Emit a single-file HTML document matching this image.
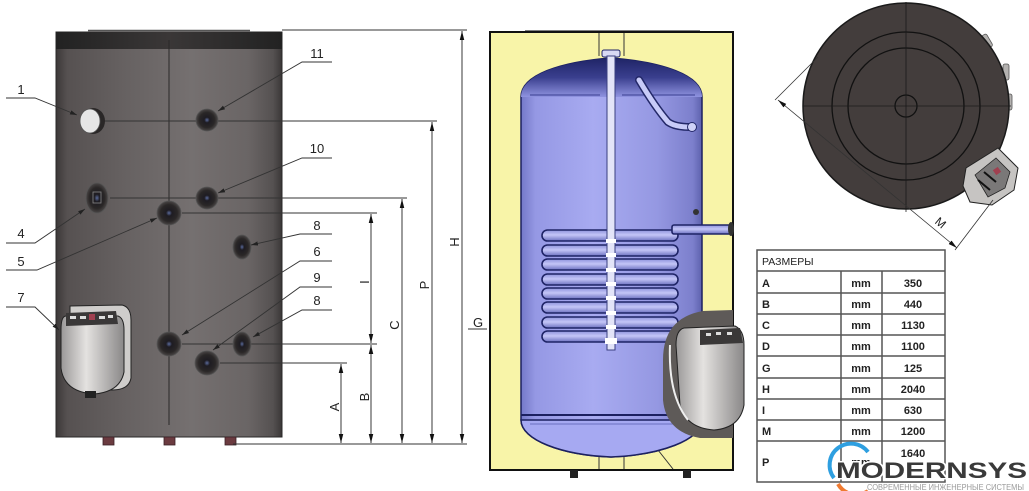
<!DOCTYPE html>
<html><head><meta charset="utf-8"><style>
html,body{margin:0;padding:0;background:#fff;}
svg{display:block;}
text{font-family:"Liberation Sans","DejaVu Sans",sans-serif;}
</style></head><body>
<svg width="1029" height="491" viewBox="0 0 1029 491" xmlns="http://www.w3.org/2000/svg">
<defs>
<linearGradient id="tankL" x1="0" x2="1" y1="0" y2="0">
<stop offset="0" stop-color="#3c3838"/><stop offset="0.05" stop-color="#565151"/>
<stop offset="0.3" stop-color="#666161"/><stop offset="0.6" stop-color="#757070"/>
<stop offset="0.85" stop-color="#6a6565"/><stop offset="0.96" stop-color="#555151"/>
<stop offset="1" stop-color="#3a3737"/></linearGradient>
<linearGradient id="cap" x1="0" x2="1"><stop offset="0" stop-color="#222"/><stop offset="0.5" stop-color="#3a3737"/><stop offset="1" stop-color="#222"/></linearGradient>
<linearGradient id="lav" x1="0" x2="1"><stop offset="0" stop-color="#7478c8"/><stop offset="0.08" stop-color="#9598e4"/><stop offset="0.4" stop-color="#a8abf1"/><stop offset="0.75" stop-color="#9598e2"/><stop offset="0.95" stop-color="#7c7fcc"/><stop offset="1" stop-color="#5d61ad"/></linearGradient>
<linearGradient id="dome" x1="0" x2="0" y1="0" y2="1"><stop offset="0" stop-color="#1f2466"/><stop offset="0.5" stop-color="#3a3f8e"/><stop offset="1" stop-color="#8f93e0"/></linearGradient>
<linearGradient id="coil" x1="0" x2="0" y1="0" y2="1"><stop offset="0" stop-color="#8e92dc"/><stop offset="0.45" stop-color="#c4c6f7"/><stop offset="1" stop-color="#6c70c0"/></linearGradient>
<linearGradient id="ctrl" x1="0" x2="1"><stop offset="0" stop-color="#9a9898"/><stop offset="0.4" stop-color="#e4e2e0"/><stop offset="1" stop-color="#8a8888"/></linearGradient>
<radialGradient id="fit"><stop offset="0" stop-color="#5a6a9a"/><stop offset="0.25" stop-color="#1e1c22"/><stop offset="0.7" stop-color="#2a2727"/><stop offset="1" stop-color="#4a4646"/></radialGradient>
<marker id="ar" viewBox="0 0 10 10" refX="10" refY="5" markerWidth="7" markerHeight="7" orient="auto-start-reverse" markerUnits="userSpaceOnUse"><path d="M0,2 L10,5 L0,8 z" fill="#222"/></marker>
<marker id="ad" viewBox="0 0 10 10" refX="10" refY="5" markerWidth="9" markerHeight="9" orient="auto-start-reverse" markerUnits="userSpaceOnUse"><path d="M0,2.5 L10,5 L0,7.5 z" fill="#111"/></marker>
</defs>

<!-- LEFT TANK -->
<line x1="88" y1="30.5" x2="250" y2="30.5" stroke="#555" stroke-width="1.5"/>
<rect x="56" y="32" width="226" height="405" fill="url(#tankL)" stroke="#2a2828" stroke-width="1"/>
<rect x="56" y="32" width="226" height="17" fill="url(#cap)"/>
<line x1="169" y1="40" x2="169" y2="425" stroke="#2a2828" stroke-width="1"/>
<!-- feet -->
<g fill="#6b3b40" stroke="#3a2226" stroke-width="0.8">
<rect x="103" y="437" width="11" height="8"/><rect x="164" y="437" width="11" height="8"/><rect x="225" y="437" width="11" height="8"/></g>

<!-- extension lines -->
<g stroke="#333" stroke-width="0.9" fill="none">
<line x1="282" y1="30" x2="467" y2="30"/>
<line x1="105" y1="121" x2="437" y2="121"/>
<line x1="110" y1="198" x2="407" y2="198"/>
<line x1="182" y1="213" x2="377" y2="213"/>
<line x1="182" y1="344" x2="377" y2="344"/>
<line x1="220" y1="363" x2="347" y2="363"/>
<line x1="233" y1="444" x2="467" y2="444"/>
</g>
<!-- dimension verticals -->
<g stroke="#222" stroke-width="0.9" fill="none">
<line x1="341" y1="364" x2="341" y2="443" marker-start="url(#ad)" marker-end="url(#ad)"/>
<line x1="371" y1="214" x2="371" y2="343" marker-start="url(#ad)" marker-end="url(#ad)"/>
<line x1="371" y1="345" x2="371" y2="443" marker-start="url(#ad)" marker-end="url(#ad)"/>
<line x1="402" y1="199" x2="402" y2="443" marker-start="url(#ad)" marker-end="url(#ad)"/>
<line x1="432" y1="122" x2="432" y2="443" marker-start="url(#ad)" marker-end="url(#ad)"/>
<line x1="462" y1="31" x2="462" y2="443" marker-start="url(#ad)" marker-end="url(#ad)"/>
</g>
<g font-size="13" fill="#222" text-anchor="middle">
<text transform="translate(339,407) rotate(-90)">A</text>
<text transform="translate(369,397) rotate(-90)">B</text>
<text transform="translate(369,282) rotate(-90)">I</text>
<text transform="translate(399,325) rotate(-90)">C</text>
<text transform="translate(429,285) rotate(-90)">P</text>
<text transform="translate(459,242) rotate(-90)">H</text>
<text x="478" y="327">G</text>
</g>
<line x1="468" y1="329" x2="487" y2="329" stroke="#333" stroke-width="0.9"/>

<!-- fittings -->
<ellipse cx="93" cy="121" rx="12" ry="13" fill="#2a2727"/>
<ellipse cx="90" cy="121" rx="10" ry="12" fill="#e6e6e6" stroke="#555" stroke-width="0.8"/>
<g stroke="#555" stroke-width="0.8">
<circle cx="207" cy="120" r="11" fill="url(#fit)"/>
<circle cx="207" cy="198" r="11" fill="url(#fit)"/>
<ellipse cx="97" cy="198" rx="11" ry="15" fill="url(#fit)"/>
<circle cx="169" cy="213" r="12" fill="url(#fit)"/>
<ellipse cx="242" cy="247" rx="9" ry="12" fill="url(#fit)"/>
<circle cx="169" cy="344" r="12" fill="url(#fit)"/>
<ellipse cx="242" cy="344" rx="9" ry="12" fill="url(#fit)"/>
<circle cx="207" cy="363" r="12" fill="url(#fit)"/>
</g>
<rect x="93" y="192" width="8" height="11" fill="none" stroke="#888" stroke-width="0.8"/>

<!-- left controller -->
<path d="M70,306 L122,305 Q131,307 131,320 L131,378 Q129,390 112,390 L80,390 Q70,388 70,375 Z" fill="#cfcdcb" stroke="#222" stroke-width="1"/>
<path d="M66,316 L118,316 Q124,318 124,330 L124,372 Q120,392 94,394 Q64,392 61,368 L61,330 Q61,316 66,316 Z" fill="url(#ctrl)" stroke="#222" stroke-width="1"/>
<path d="M66,313 L116,311 L118,324 L66,326 Z" fill="#3a3838"/>
<g fill="#ddd"><rect x="70" y="316" width="6" height="3"/><rect x="80" y="316" width="6" height="3"/><rect x="99" y="316" width="6" height="3"/><rect x="108" y="315" width="5" height="3"/></g>
<rect x="89" y="314" width="6" height="6" fill="#a04050"/>
<rect x="85" y="391" width="11" height="7" fill="#222"/>

<!-- leaders -->
<g stroke="#333" stroke-width="0.9" fill="none">
<polyline points="6,98 35,98 77,115" marker-end="url(#ar)"/>
<polyline points="332,62 302,62 218,111" marker-end="url(#ar)"/>
<polyline points="332,158 302,158 218,193" marker-end="url(#ar)"/>
<polyline points="6,243 35,243 85,209" marker-end="url(#ar)"/>
<polyline points="6,270 37,270 157,218" marker-end="url(#ar)"/>
<polyline points="332,234 300,234 251,245" marker-end="url(#ar)"/>
<polyline points="332,261 300,261 182,335" marker-end="url(#ar)"/>
<polyline points="332,287 300,287 213,350" marker-end="url(#ar)"/>
<polyline points="332,310 302,310 253,337" marker-end="url(#ar)"/>
<polyline points="6,307 35,307 59,330" marker-end="url(#ar)"/>
</g>
<g font-size="13" fill="#222" text-anchor="middle">
<text x="21" y="94">1</text>
<text x="317" y="58">11</text>
<text x="317" y="153">10</text>
<text x="21" y="238">4</text>
<text x="21" y="266">5</text>
<text x="317" y="230">8</text>
<text x="317" y="256">6</text>
<text x="317" y="282">9</text>
<text x="317" y="305">8</text>
<text x="21" y="302">7</text>
</g>

<!-- MIDDLE TANK -->
<line x1="525" y1="31" x2="700" y2="31" stroke="#555" stroke-width="1.5"/>
<rect x="490" y="32" width="243" height="438" fill="#f8f4a8" stroke="#111" stroke-width="2"/>
<line x1="599" y1="33" x2="599" y2="56" stroke="#333" stroke-width="1"/>
<line x1="624" y1="33" x2="624" y2="56" stroke="#333" stroke-width="1"/>
<line x1="599" y1="452" x2="599" y2="469" stroke="#333" stroke-width="1"/>
<line x1="624" y1="452" x2="624" y2="469" stroke="#333" stroke-width="1"/>
<line x1="658" y1="450" x2="673" y2="469" stroke="#333" stroke-width="1"/>
<path d="M521,97 C521,75 560,62 611,58 C662,62 702,75 702,97 L702,420 C702,440 660,455 611,457 C562,455 521,440 521,420 Z" fill="url(#lav)" stroke="#1c2060" stroke-width="1.5"/>
<path d="M521,97 C521,75 560,62 611,58 C662,62 702,75 702,97 Z" fill="url(#dome)"/>
<line x1="530" y1="95" x2="600" y2="95" stroke="#3a3f90" stroke-width="1"/>
<line x1="622" y1="95" x2="695" y2="95" stroke="#3a3f90" stroke-width="1"/>
<path d="M521,420 L702,420 C702,440 660,455 611,457 C562,455 521,440 521,420 Z" fill="#a6a9f2" stroke="#1c2060" stroke-width="1.5"/>
<line x1="521" y1="415" x2="702" y2="415" stroke="#1c2060" stroke-width="2"/>
<line x1="530" y1="424" x2="690" y2="424" stroke="#6a6ec0" stroke-width="1"/>
<!-- bent pipe -->
<path d="M639,80 Q655,107 668,122 Q675,127 690,127" fill="none" stroke="#232868" stroke-width="8" stroke-linecap="round"/>
<path d="M639,80 Q655,107 668,122 Q675,127 690,127" fill="none" stroke="#c8cbf8" stroke-width="5" stroke-linecap="round"/>
<circle cx="692" cy="127" r="4.5" fill="#d0d2f8" stroke="#232868" stroke-width="1"/>
<circle cx="696" cy="212" r="3" fill="#333"/>
<!-- coils -->
<g stroke="#1f2466" stroke-width="1.6" fill="url(#coil)">
<rect x="542" y="331" width="136" height="11" rx="5.5"/>
<rect x="542" y="317" width="136" height="11" rx="5.5"/>
<rect x="542" y="302" width="136" height="11" rx="5.5"/>
<rect x="542" y="288" width="136" height="11" rx="5.5"/>
<rect x="542" y="274" width="136" height="11" rx="5.5"/>
<rect x="542" y="259" width="136" height="11" rx="5.5"/>
<rect x="542" y="245" width="136" height="11" rx="5.5"/>
<rect x="542" y="230" width="136" height="11" rx="5.5"/>
<rect x="672" y="225" width="59" height="9" rx="2"/>
</g>
<ellipse cx="731" cy="229" rx="3" ry="7" fill="#333"/>
<!-- vertical pipe -->
<rect x="602" y="50" width="18" height="7" rx="2" fill="#d8d9f4" stroke="#1f2466" stroke-width="1"/>
<rect x="607" y="56" width="8" height="294" fill="#e3e4f8" stroke="#3a3f80" stroke-width="1"/>
<g fill="#fff"><rect x="606" y="239" width="10" height="4"/><rect x="606" y="253" width="10" height="4"/><rect x="606" y="268" width="10" height="4"/><rect x="606" y="282" width="10" height="4"/><rect x="606" y="296" width="10" height="4"/><rect x="606" y="311" width="10" height="4"/><rect x="606" y="325" width="10" height="4"/><rect x="605" y="338" width="12" height="6"/></g>
<!-- middle controller -->
<path d="M733,310 L703,311 Q663,318 663,360 L663,400 Q666,432 700,438 L733,438 Z" fill="#5e5a58"/>
<path d="M684,328 L735,326 Q744,330 744,345 L744,405 Q740,428 714,430 Q686,428 680,405 L676,345 Q676,330 684,328 Z" fill="url(#ctrl)" stroke="#222" stroke-width="1"/>
<path d="M700,330 L740,328 L743,343 L700,345 Z" fill="#3a3838"/>
<g fill="#ddd"><rect x="706" y="333" width="5" height="3"/><rect x="716" y="332" width="5" height="3"/><rect x="727" y="332" width="5" height="3"/></g>
<path d="M670,345 Q668,395 688,420" fill="none" stroke="#eee" stroke-width="2"/>
<rect x="570" y="470" width="8" height="8" fill="#222"/>
<rect x="683" y="470" width="8" height="8" fill="#222"/>

<!-- TOP VIEW -->
<line x1="906" y1="2" x2="906" y2="212" stroke="#222" stroke-width="0.8"/>
<g fill="#b4b2b0" stroke="#555" stroke-width="0.8">
<rect x="984" y="34" width="6" height="14" rx="2" transform="rotate(-30 987 41)"/>
<rect x="1003" y="64" width="6" height="16" rx="2"/>
<rect x="1007" y="94" width="5" height="16" rx="2"/>
</g>
<circle cx="906" cy="106" r="103" fill="#433d3c" stroke="#1a1a1a" stroke-width="1.5"/>
<g fill="none" stroke="#111" stroke-width="1.3">
<circle cx="906" cy="106" r="74"/><circle cx="906" cy="106" r="58"/><circle cx="906" cy="106" r="11"/></g>
<line x1="906" y1="3" x2="906" y2="209" stroke="#1a1a1a" stroke-width="0.8"/>
<line x1="803" y1="106" x2="1011" y2="106" stroke="#1a1a1a" stroke-width="0.8"/>
<path d="M966,168 L998,148 L1018,168 L1014,190 L992,205 L970,202 L963,186 Z" fill="#c6c4c2" stroke="#222" stroke-width="1"/>
<path d="M975,175 L996,158 L1010,172 L1005,188 L988,197 Z" fill="#7a7878" stroke="#222" stroke-width="0.8"/>
<rect x="994" y="168" width="6" height="6" fill="#a04050" transform="rotate(-35 997 171)"/>
<path d="M978,180 L990,190 M984,172 L996,182" stroke="#111" stroke-width="2"/>
<g stroke="#333" stroke-width="0.8" fill="none">
<line x1="818" y1="57" x2="775" y2="100"/>
<line x1="993" y1="200" x2="955" y2="250"/>
<line x1="778" y1="100" x2="957" y2="248" marker-start="url(#ad)" marker-end="url(#ad)"/>
</g>
<text transform="translate(938,226) rotate(40)" font-size="12" fill="#222" text-anchor="middle">M</text>

<!-- TABLE -->
<g stroke="#555" stroke-width="1.5" fill="none">
<rect x="757" y="250" width="188" height="232"/>
<line x1="757" y1="271" x2="945" y2="271"/>
<line x1="757" y1="293" x2="945" y2="293"/>
<line x1="757" y1="314" x2="945" y2="314"/>
<line x1="757" y1="335" x2="945" y2="335"/>
<line x1="757" y1="356" x2="945" y2="356"/>
<line x1="757" y1="378" x2="945" y2="378"/>
<line x1="757" y1="399" x2="945" y2="399"/>
<line x1="757" y1="420" x2="945" y2="420"/>
<line x1="757" y1="441" x2="945" y2="441"/>
<line x1="841" y1="271" x2="841" y2="482"/>
<line x1="882" y1="271" x2="882" y2="482"/>
</g>
<text x="762" y="265" font-size="10.5" fill="#222">РАЗМЕРЫ</text>
<g font-size="11" fill="#222" font-weight="bold">
<text x="762" y="287">A</text><text x="762" y="308">B</text><text x="762" y="329">C</text><text x="762" y="350">D</text>
<text x="762" y="372">G</text><text x="762" y="393">H</text><text x="762" y="414">I</text><text x="762" y="435">M</text><text x="762" y="466">P</text>
</g>
<g font-size="11" fill="#222" font-weight="bold" text-anchor="middle">
<text x="861" y="287">mm</text><text x="861" y="308">mm</text><text x="861" y="329">mm</text><text x="861" y="350">mm</text>
<text x="861" y="372">mm</text><text x="861" y="393">mm</text><text x="861" y="414">mm</text><text x="861" y="435">mm</text><text x="861" y="466">mm</text>
<text x="913" y="287">350</text><text x="913" y="308">440</text><text x="913" y="329">1130</text><text x="913" y="350">1100</text>
<text x="913" y="372">125</text><text x="913" y="393">2040</text><text x="913" y="414">630</text><text x="913" y="435">1200</text><text x="913" y="457">1640</text>
</g>

<!-- LOGO -->
<path d="M834,478 A21,21 0 0 1 868,452" fill="none" stroke="#2e9fe0" stroke-width="4"/>
<path d="M838,484 A21,21 0 0 0 868,491" fill="none" stroke="#f07a30" stroke-width="4"/>
<text x="836" y="478" font-size="22" font-weight="bold" fill="#3a3a3a" stroke="#fff" stroke-width="3" paint-order="stroke" textLength="191" lengthAdjust="spacingAndGlyphs">MODERNSYS</text>
<text x="867" y="490" font-size="8.5" fill="#9a9a9a" textLength="157" lengthAdjust="spacingAndGlyphs">СОВРЕМЕННЫЕ ИНЖЕНЕРНЫЕ СИСТЕМЫ</text>
</svg>
</body></html>
